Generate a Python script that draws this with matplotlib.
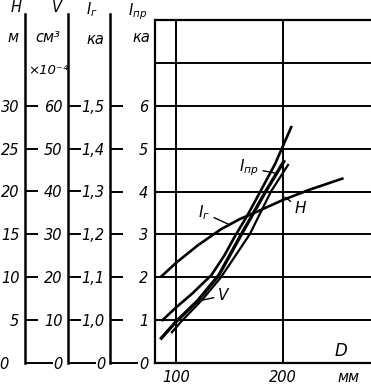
import matplotlib
matplotlib.use('Agg')
import matplotlib.pyplot as plt
from matplotlib.ticker import FixedLocator, FixedFormatter

# curves, D in mm
d_h = [86, 100, 120, 142, 160, 175, 200, 225, 256]
h_m = [10.1, 11.7, 13.7, 15.6, 16.8, 17.6, 19.0, 20.2, 21.5]

d_ig = [87, 100, 115, 133, 145, 155, 167, 179, 193, 208]
i_g = [1.0, 1.03, 1.062, 1.105, 1.15, 1.195, 1.245, 1.30, 1.365, 1.45]

d_ipr = [86, 100, 120, 140, 160, 184, 201]
i_pr = [0.58, 0.97, 1.45, 2.05, 2.95, 4.0, 4.7]

d_v = [96, 104, 124.5, 142, 169, 189, 205]
v_cm3 = [7.2, 9.5, 14.8, 20, 30, 40, 46.2]

# scale ticks
h_ticks = [5, 10, 15, 20, 25, 30]
h_labels = ['5', '10', '15', '20', '25', '30']
v_ticks = [10, 20, 30, 40, 50, 60]
v_labels = ['10', '20', '30', '40', '50', '60']
ig_ticks = [1.0, 1.1, 1.2, 1.3, 1.4, 1.5]
ig_labels = ['1,0', '1,1', '1,2', '1,3', '1,4', '1,5']
ipr_ticks = [0, 1, 2, 3, 4, 5, 6, 7, 8]
ipr_labels = ['0', '1', '2', '3', '4', '5', '6', '', '']
d_ticks = [100, 200]
d_labels = ['100', '200']

plt.rcParams['font.family'] = ['DejaVu Sans']
plt.rcParams['font.style'] = 'italic'
plt.rcParams['mathtext.fontset'] = 'dejavusans'

W, H = 371, 385
fig = plt.figure(figsize=(W / 100, H / 100), dpi=100)


def fx(px):
    return px / W


def fy(py):
    return 1 - py / H


# main plot (I_pr scale)
ax = fig.add_axes([fx(155), fy(363), (371 - 155) / W, 343 / H])
ax.set_xlim(80, 283)
ax.set_ylim(0, 8)
ax.set_xticks(d_ticks)
ax.set_xticklabels(d_labels)
ax.set_yticks(ipr_ticks)
ax.set_yticklabels(ipr_labels)
ax.tick_params(axis='both', length=0, labelsize=10.5)
ax.tick_params(axis='y', pad=5)
ax.tick_params(axis='x', pad=5)
ax.grid(True, color='black', lw=1.4)
ax.spines['right'].set_visible(False)
for s in ['left', 'top', 'bottom']:
    ax.spines[s].set_linewidth(1.6)

# hidden twins so each curve uses its own scale
axh = ax.twinx()
axh.set_ylim(0, 40)
axh.axis('off')
axv = ax.twinx()
axv.set_ylim(0, 80)
axv.axis('off')
axg = ax.twinx()
axg.set_ylim(0.9, 1.7)
axg.axis('off')

axh.plot(d_h, h_m, color='black', lw=1.9)
axg.plot(d_ig, i_g, color='black', lw=1.9)
ax.plot(d_ipr, i_pr, color='black', lw=2.4, zorder=5)
axv.plot(d_v, v_cm3, color='black', lw=1.6)

# curve labels with leaders
lab = dict(fontsize=11, ha='center', va='center',
           arrowprops=dict(arrowstyle='-', lw=1.0, color='black',
                           shrinkA=1, shrinkB=0))
ax.annotate('$I_{пр}$', xy=(192.7, 4.43), xytext=(168.3, 4.55), **lab)
ax.annotate('$I_{г}$', xy=(150.5, 3.22), xytext=(126, 3.5), **lab)
ax.annotate('H', xy=(202.1, 3.87), xytext=(216.5, 3.6), **lab)
ax.annotate('V', xy=(125.1, 1.47), xytext=(144, 1.57), **lab)
ax.text(0.861, 0.01, 'D', transform=ax.transAxes, fontsize=12,
        ha='center', va='bottom')
fig.text(fx(348), fy(377), 'мм', fontsize=10.5, ha='center', va='center')

# extra scales on the left
ext = 8 * 349 / 343


def side_axis(px, lo, unit, ticks, labels, zero_pad):
    a = fig.add_axes([fx(px), fy(363), 0.001, 349 / H])
    a.set_ylim(lo, lo + unit * ext)
    a.set_xticks([])
    for s in ['right', 'top', 'bottom']:
        a.spines[s].set_visible(False)
    a.spines['left'].set_linewidth(1.8)
    a.yaxis.set_major_locator(FixedLocator(ticks))
    a.yaxis.set_major_formatter(FixedFormatter(labels))
    a.yaxis.set_minor_locator(FixedLocator([lo]))
    a.yaxis.set_minor_formatter(FixedFormatter(['0']))
    a.tick_params(axis='y', which='major', direction='in', length=9,
                  width=1.4, pad=4, labelsize=10.5)
    a.tick_params(axis='y', which='minor', direction='in', length=20,
                  width=1.4, pad=zero_pad, labelsize=10.5)
    a.patch.set_visible(False)
    return a


side_axis(25, 0, 5, h_ticks, h_labels, 12)
side_axis(68, 0, 10, v_ticks, v_labels, 4)
side_axis(110, 0.9, 0.1, ig_ticks, ig_labels, 3)

# scale headings
head = dict(fontsize=10.5, ha='center', va='center')
fig.text(fx(16), fy(8), 'H', **head)
fig.text(fx(13), fy(37), 'м', **head)
fig.text(fx(57), fy(8), 'V', **head)
fig.text(fx(48), fy(37), 'см³', **head)
fig.text(fx(48), fy(70), '×10⁻⁴', fontsize=9.5, ha='center', va='center')
fig.text(fx(92), fy(10), '$I_{г}$', **head)
fig.text(fx(95), fy(39), 'ка', **head)
fig.text(fx(138), fy(12), '$I_{пр}$', **head)
fig.text(fx(141), fy(38), 'ка', **head)

fig.savefig('out.png', dpi=100)
